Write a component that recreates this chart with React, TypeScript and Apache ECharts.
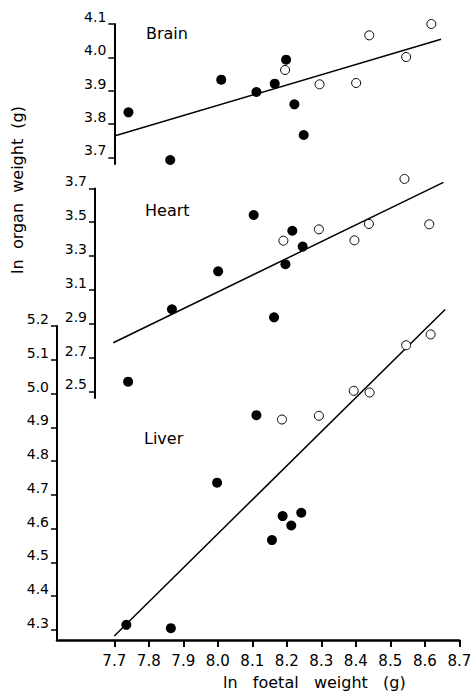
import React, { useEffect, useRef } from "react";
import * as echarts from "echarts";

// x ticks (ln foetal weight)
const xTicks = [7.7, 7.8, 7.9, 8.0, 8.1, 8.2, 8.3, 8.4, 8.5, 8.6, 8.7];
const brainTicks = [3.7, 3.8, 3.9, 4.0, 4.1];
const heartTicks = [2.5, 2.7, 2.9, 3.1, 3.3, 3.5, 3.7];
const liverTicks = [4.3, 4.4, 4.5, 4.6, 4.7, 4.8, 4.9, 5.0, 5.1, 5.2];

// Brain
const brainFilled: [number, number][] = [
  [7.741, 3.835], [8.01, 3.933], [7.862, 3.692], [8.198, 3.993], [8.165, 3.921],
  [8.112, 3.896], [8.222, 3.859], [8.249, 3.767],
];
const brainOpen: [number, number][] = [
  [8.195, 3.962], [8.295, 3.919], [8.401, 3.923], [8.439, 4.066], [8.546, 4.001], [8.619, 4.1],
];
const brainFit: [number, number][] = [[7.7, 3.764], [8.647, 4.054]];

// Heart
const heartFilled: [number, number][] = [
  [8.001, 3.21], [7.867, 2.986], [7.74, 2.558], [8.104, 3.543], [8.216, 3.45],
  [8.246, 3.356], [8.196, 3.252], [8.163, 2.938],
];
const heartOpen: [number, number][] = [
  [8.19, 3.391], [8.293, 3.458], [8.396, 3.393], [8.438, 3.49], [8.613, 3.488], [8.541, 3.756],
];
const heartFit: [number, number][] = [[7.697, 2.788], [8.654, 3.736]];

// Liver
const liverFilled: [number, number][] = [
  [7.998, 4.736], [7.735, 4.315], [7.864, 4.305], [8.112, 4.936], [8.188, 4.637],
  [8.242, 4.647], [8.213, 4.609], [8.157, 4.566],
];
const liverOpen: [number, number][] = [
  [8.186, 4.923], [8.293, 4.934], [8.394, 5.008], [8.44, 5.003], [8.546, 5.143], [8.617, 5.175],
];
const liverFit: [number, number][] = [[7.7, 4.282], [8.659, 5.249]];

const FONT = "DejaVu Sans";

export default function App() {
  const ref = useRef<HTMLDivElement>(null);
  useEffect(() => {
    if (!ref.current) return;
    const chart = echarts.init(ref.current, null, { renderer: "svg" });

    const fmt = (v: number) => v.toFixed(1);
    const yAxisBase = (ticks: number[]) => ({
      type: "value",
      axisLine: { show: true, onZero: false, lineStyle: { color: "#000", width: 2 } },
      axisTick: { show: true, length: 6, lineStyle: { color: "#000", width: 1.5 }, customValues: ticks },
      axisLabel: {
        color: "#000", fontSize: 14, fontFamily: FONT, margin: 8,
        verticalAlign: "bottom", lineHeight: 14, customValues: ticks, formatter: fmt,
      },
      splitLine: { show: false },
    });
    const hiddenX = (min: number, gi: number) => ({
      type: "value", gridIndex: gi, min, max: 8.7, show: false, splitLine: { show: false },
    });
    const filled = (data: [number, number][], xi: number) => ({
      type: "scatter", xAxisIndex: xi, yAxisIndex: xi, data, symbol: "circle", symbolSize: 10,
      itemStyle: { color: "#000", opacity: 1 }, clip: false, z: 3,
    });
    const open = (data: [number, number][], xi: number) => ({
      type: "scatter", xAxisIndex: xi, yAxisIndex: xi, data, symbol: "circle", symbolSize: 9,
      itemStyle: { color: "#fff", borderColor: "#000", borderWidth: 1, opacity: 1 }, clip: false, z: 3,
    });
    const fit = (data: [number, number][], xi: number) => ({
      type: "line", xAxisIndex: xi, yAxisIndex: xi, data, symbol: "none", clip: false,
      lineStyle: { color: "#000", width: 1.5 }, z: 2,
    });
    const titleStyle = { color: "#000", fontSize: 16, fontWeight: "normal", fontFamily: FONT };

    chart.setOption({
      animation: false,
      backgroundColor: "#fff",
      title: [
        { text: "Brain", left: 146, top: 25, textStyle: titleStyle, padding: 0 },
        { text: "Heart", left: 145, top: 202, textStyle: titleStyle, padding: 0 },
        { text: "Liver", left: 144, top: 430, textStyle: titleStyle, padding: 0 },
      ],
      grid: [
        { left: 114.3, right: 15.7, top: 24, height: 140, outerBoundsMode: "none" },
        { left: 95, right: 15.7, top: 188.4, height: 209.5, outerBoundsMode: "none" },
        { left: 57, right: 15.7, top: 326, height: 314, outerBoundsMode: "none" },
      ],
      xAxis: [
        hiddenX(7.7, 0),
        hiddenX(7.644, 1),
        {
          type: "value", gridIndex: 2, min: 7.534, max: 8.7,
          axisLine: { show: true, onZero: false, lineStyle: { color: "#000", width: 2.5 } },
          axisTick: { show: true, length: 7, lineStyle: { color: "#000", width: 2 }, customValues: xTicks },
          axisLabel: { color: "#000", fontSize: 15, fontFamily: FONT, margin: 13, customValues: xTicks, formatter: fmt },
          splitLine: { show: false },
        },
      ],
      yAxis: [
        { ...yAxisBase(brainTicks), gridIndex: 0, min: 3.68, max: 4.1 },
        { ...yAxisBase(heartTicks), gridIndex: 1, min: 2.462, max: 3.7 },
        { ...yAxisBase(liverTicks), gridIndex: 2, min: 4.27, max: 5.2 },
      ],
      graphic: [
        {
          type: "text", left: 9, top: 106, rotation: Math.PI / 2,
          style: { text: "ln  organ  weight  (g)", fill: "#000", fontSize: 16, fontFamily: FONT },
        },
        {
          type: "text", left: 223, top: 674,
          style: { text: "ln   foetal   weight   (g)", fill: "#000", fontSize: 16, fontFamily: FONT },
        },
      ],
      series: [
        fit(brainFit, 0), filled(brainFilled, 0), open(brainOpen, 0),
        fit(heartFit, 1), filled(heartFilled, 1), open(heartOpen, 1),
        fit(liverFit, 2), filled(liverFilled, 2), open(liverOpen, 2),
      ],
    });
    return () => chart.dispose();
  }, []);
  return (
    <div
      ref={ref}
      style={{ position: "absolute", left: 0, top: 0, width: 475, height: 694 }}
    />
  );
}
